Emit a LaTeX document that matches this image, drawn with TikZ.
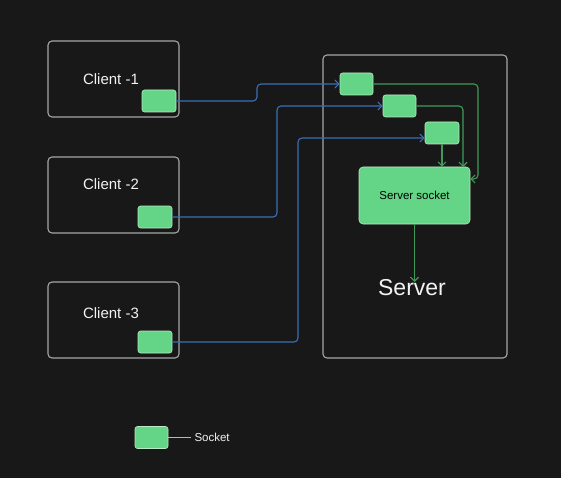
\documentclass[tikz,border=0pt]{standalone}
\usepackage{fontspec}
\setmainfont{Liberation Sans}
\usetikzlibrary{
  arrows.meta,
  positioning
}
\definecolor{SkBack}{HTML}{181818}
\definecolor{SkFrame}{HTML}{A6A6A6}
\definecolor{SkSock}{HTML}{64D586}
\definecolor{SkSockRim}{HTML}{B8E8C4}
\definecolor{SkBlue}{HTML}{3B6FB8}
\definecolor{SkGreen}{HTML}{3F9A5A}
\definecolor{SkText}{HTML}{F2F2F2}
\tikzset{
  skframe/.style={
    draw=SkFrame,
    line width=1.1pt,
    rounded corners=4pt,
    inner sep=0pt
  },
  sksock/.style={
    draw=SkSockRim,
    fill=SkSock,
    line width=0.6pt,
    rounded corners=2.5pt,
    minimum width=33pt,
    minimum height=22pt,
    inner sep=0pt
  },
  sklabel/.style={
    text=SkText,
    font=\fontsize{15}{18}\selectfont
  },
  skblue/.style={
    -{Straight Barb[length=4pt,width=8pt]},
    line width=1.1pt,
    color=SkBlue,
    rounded corners=4pt
  },
  skgreen/.style={
    -{Straight Barb[length=4pt,width=8pt]},
    line width=1.1pt,
    color=SkGreen,
    rounded corners=4pt
  }
}

\begin{document}
\begin{tikzpicture}[x=1pt,y=-1pt]
  \fill[SkBack] (0,0) rectangle (561,478);
  \useasboundingbox (0,0) rectangle (561,478);

  % clients
  \node[skframe,minimum width=131pt,minimum height=76pt] (client1) at (113.5,79) {};
  \node[skframe,minimum width=131pt,minimum height=76pt] (client2) at (113.5,195) {};
  \node[skframe,minimum width=131pt,minimum height=76pt] (client3) at (113.5,320) {};
  \node[sklabel] (client1lbl) at (111,79) {Client -1};
  \node[sklabel] (client2lbl) at (111,184) {Client -2};
  \node[sklabel] (client3lbl) at (111,313) {Client -3};
  \node[sksock,minimum width=34pt] (c1sock) at (159,101) {};
  \node[sksock,minimum width=34pt] (c2sock) at (155,217) {};
  \node[sksock,minimum width=34pt] (c3sock) at (155,342) {};

  % server
  \node[skframe,minimum width=184pt,minimum height=303pt] (server) at (415,206.5) {};
  \node[sksock] (s1sock) at (356.5,84) {};
  \node[sksock] (s2sock) at (399.5,106) {};
  \node[sksock,minimum width=34pt] (s3sock) at (442,133) {};
  \node[sksock,minimum width=111pt,minimum height=57pt,rounded corners=4pt,
    font=\fontsize{11.5}{14}\selectfont] (srvsock) at (414.5,195.5) {Server socket};
  \node[text=SkText,font=\fontsize{23}{27}\selectfont] (srvlbl) at (412,288) {Server};
  \coordinate (srvtip) at (414.5,282);

  \draw[skblue] (c1sock.east) -- (257,101) |- (s1sock.west);
  \draw[skblue] (c2sock.east) -- (277,217) |- (s2sock.west);
  \draw[skblue] (c3sock.east) -- (298,342) |- ([yshift=-5pt]s3sock.west);

  \draw[skgreen] (s1sock.east) -- (478,84) |- (srvsock.east |- 0,179);
  \draw[skgreen] (s2sock.east) -| (463,167);
  \draw[skgreen] (s3sock.south) -- (s3sock.south |- srvsock.north);
  \draw[skgreen] (srvsock.south) -- (srvtip);

  % legend
  \node[sksock] (keysock) at (151.5,437.5) {};
  \node[anchor=west,text=SkText,font=\fontsize{11.5}{14}\selectfont] (keylbl) at (191,437.5) {Socket};
  \draw[SkFrame!80!white,line width=0.9pt] (keysock.east) -- (keylbl.west);
\end{tikzpicture}
\end{document}
